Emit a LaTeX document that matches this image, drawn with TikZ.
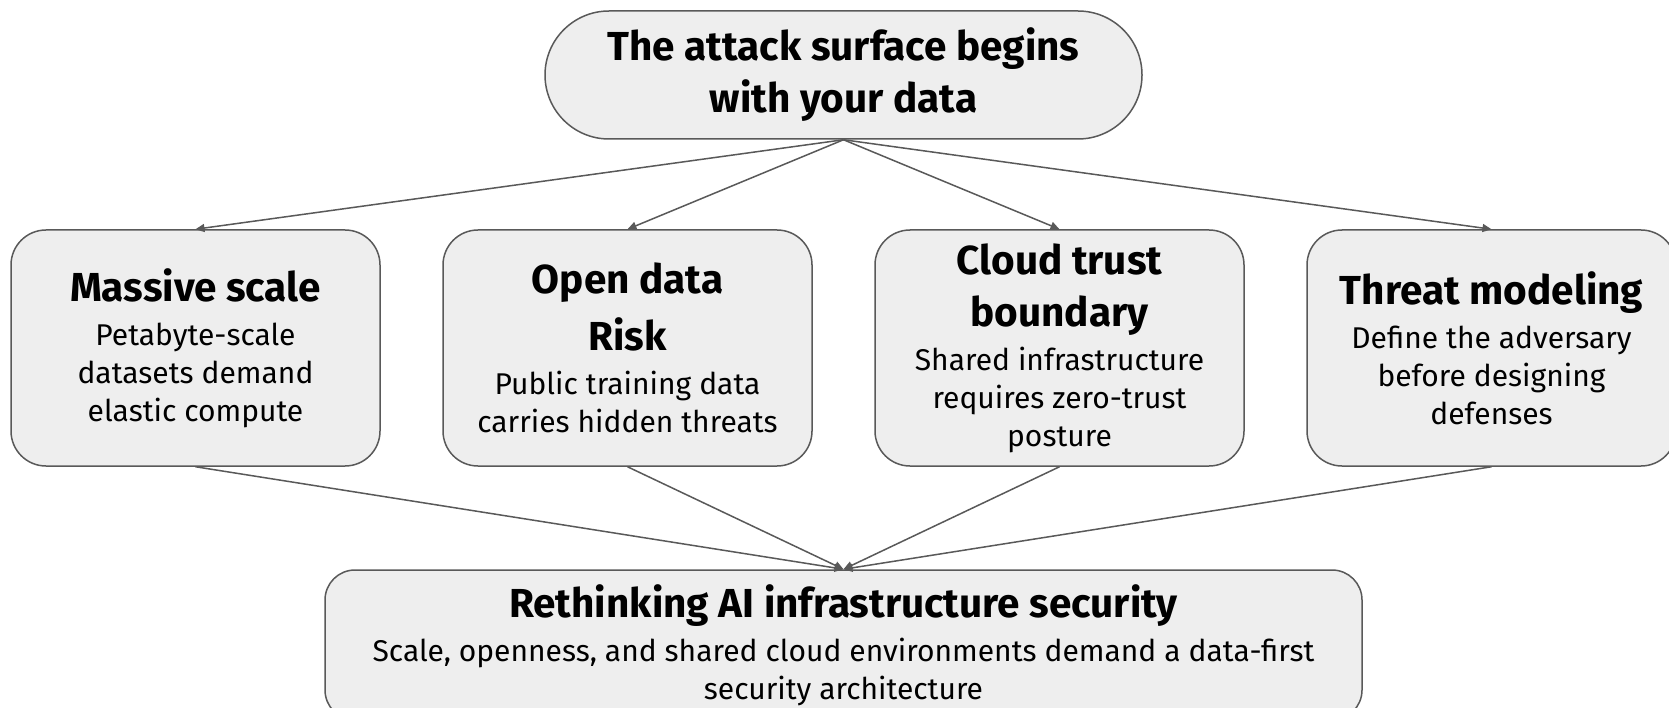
\documentclass[tikz,border=0pt]{standalone}
\usepackage{fontspec}
\setmainfont{Fira Sans}
\usetikzlibrary{arrows.meta}
\definecolor{boxfill}{HTML}{EEEEEE}
\definecolor{edgegray}{HTML}{595959}
\newcommand{\hdfont}{\fontsize{40.5}{52}\selectfont\bfseries}
\newcommand{\bdfont}{\fontsize{30}{38}\selectfont}
\tikzset{
  card/.style={draw=edgegray, fill=boxfill, line width=1.5pt, rounded corners=35pt,
    minimum width=369pt, minimum height=236pt, align=center, inner sep=0pt, text=black, font=\bdfont},
  topbox/.style={draw=edgegray, fill=boxfill, line width=1.5pt, rounded corners=64pt,
    minimum width=597pt, minimum height=128pt, align=center, inner sep=0pt, font=\hdfont},
  botbox/.style={draw=edgegray, fill=boxfill, line width=1.5pt, rounded corners=30pt,
    minimum width=1037pt, minimum height=150pt, align=center, inner sep=0pt, font=\bdfont},
  link/.style={draw=edgegray, line width=1.5pt, -{Triangle[length=9pt,width=8pt]}},
}
\begin{document}
\begin{tikzpicture}[x=1pt,y=-1pt]
\useasboundingbox (0,0) rectangle (1669,708);
\fill[white] (0,0) rectangle (1669,708);
\node[topbox] (top) at (843.5,75) {The attack surface begins\\with your data};
\node[card] (b1) at (195.5,348) {{\hdfont Massive scale}\\[6pt]Petabyte-scale\\datasets demand\\elastic compute};
\node[card] (b2) at (627.5,348) {{\hdfont Open data}\\[14pt]{\hdfont Risk}\\[6pt]Public training data\\carries hidden threats};
\node[card] (b3) at (1059.5,348) {{\hdfont Cloud trust}\\[14pt]{\hdfont boundary}\\[6pt]Shared infrastructure\\requires zero-trust\\posture};
\node[card] (b4) at (1491.5,348) {{\hdfont Threat modeling}\\[6pt]Define the adversary\\before designing\\defenses};
\node[botbox] (bot) at (843.5,645) {{\hdfont Rethinking AI infrastructure security}\\[6pt]Scale, openness, and shared cloud environments demand a data-first\\security architecture};
\foreach \b in {b1,b2,b3,b4} {
  \draw[link] (top.south) -- (\b.north);
  \draw[link] (\b.south) -- (bot.north);
}
\end{tikzpicture}
\end{document}
